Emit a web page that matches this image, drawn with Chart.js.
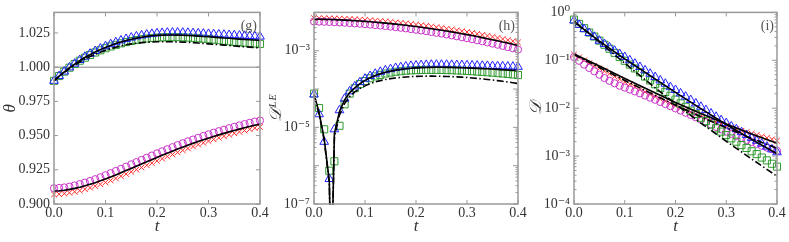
<!DOCTYPE html>
<html>
<head>
<meta charset="utf-8">
<script src="https://cdn.jsdelivr.net/npm/chart.js@4"></script>
<style>
  html, body { margin: 0; padding: 0; background: #fff; }
  #wrap { position: relative; width: 789px; height: 242px; }
  canvas { position: absolute; left: 0; top: 0; }
</style>
</head>
<body>
<div id="wrap">
  <canvas id="panelG" width="789" height="242"></canvas>
  <canvas id="panelH" width="789" height="242"></canvas>
  <canvas id="panelI" width="789" height="242"></canvas>
</div>
<script>
// sample times of the markers
const tPts = [0, 0.01, 0.02, 0.03, 0.04, 0.05, 0.06, 0.07, 0.08, 0.09,
  0.10, 0.11, 0.12, 0.13, 0.14, 0.15, 0.16, 0.17, 0.18, 0.19,
  0.20, 0.21, 0.22, 0.23, 0.24, 0.25, 0.26, 0.27, 0.28, 0.29,
  0.30, 0.31, 0.32, 0.33, 0.34, 0.35, 0.36, 0.37, 0.38, 0.39, 0.40];
const xTicks = [0, 0.1, 0.2, 0.3, 0.4];

// ---- panel (g): theta ----
const gRed = [0.9070, 0.9072, 0.9076, 0.9082, 0.9089, 0.9098, 0.9108, 0.9119, 0.9131, 0.9144,
  0.9158, 0.9172, 0.9187, 0.9203, 0.9219, 0.9235, 0.9251, 0.9267, 0.9283, 0.9299,
  0.9315, 0.9331, 0.9347, 0.9362, 0.9377, 0.9392, 0.9406, 0.9420, 0.9434, 0.9447,
  0.9460, 0.9472, 0.9484, 0.9495, 0.9506, 0.9517, 0.9527, 0.9537, 0.9546, 0.9555, 0.9563];
const gMagenta = [0.9115, 0.9117, 0.9121, 0.9127, 0.9135, 0.9145, 0.9156, 0.9168, 0.9181, 0.9195,
  0.9210, 0.9225, 0.9241, 0.9257, 0.9273, 0.9290, 0.9306, 0.9322, 0.9338, 0.9354,
  0.9370, 0.9385, 0.9400, 0.9415, 0.9430, 0.9444, 0.9458, 0.9471, 0.9484, 0.9497,
  0.9509, 0.9521, 0.9532, 0.9543, 0.9554, 0.9564, 0.9574, 0.9584, 0.9593, 0.9602, 0.9610];
const gBlue = [0.9900, 0.9935, 0.9968, 0.9998, 1.0026, 1.0052, 1.0076, 1.0098, 1.0118, 1.0136,
  1.0153, 1.0168, 1.0182, 1.0195, 1.0206, 1.0216, 1.0225, 1.0232, 1.0238, 1.0243,
  1.0247, 1.0250, 1.0252, 1.0253, 1.0253, 1.0252, 1.0251, 1.0249, 1.0247, 1.0245,
  1.0243, 1.0241, 1.0239, 1.0237, 1.0235, 1.0233, 1.0231, 1.0229, 1.0227, 1.0225, 1.0223];
const gGreen = [0.9900, 0.9935, 0.9967, 0.9996, 1.0023, 1.0047, 1.0069, 1.0089, 1.0107, 1.0123,
  1.0138, 1.0151, 1.0163, 1.0174, 1.0183, 1.0191, 1.0198, 1.0204, 1.0209, 1.0213,
  1.0216, 1.0218, 1.0219, 1.0219, 1.0219, 1.0218, 1.0216, 1.0214, 1.0211, 1.0208,
  1.0205, 1.0201, 1.0197, 1.0193, 1.0189, 1.0185, 1.0182, 1.0179, 1.0176, 1.0173, 1.0170];
const gSolidLow = [0.9095, 0.9097, 0.9101, 0.9107, 0.9114, 0.9123, 0.9133, 0.9144, 0.9156, 0.9169,
  0.9183, 0.9197, 0.9212, 0.9228, 0.9244, 0.9260, 0.9276, 0.9292, 0.9308, 0.9324,
  0.9340, 0.9356, 0.9371, 0.9386, 0.9401, 0.9415, 0.9429, 0.9443, 0.9456, 0.9469,
  0.9481, 0.9493, 0.9505, 0.9516, 0.9527, 0.9537, 0.9547, 0.9557, 0.9566, 0.9575, 0.9583];
const gSolidUp = [0.9900, 0.9934, 0.9966, 0.9995, 1.0022, 1.0047, 1.0070, 1.0091, 1.0110, 1.0128,
  1.0144, 1.0159, 1.0172, 1.0184, 1.0195, 1.0204, 1.0212, 1.0219, 1.0225, 1.0229,
  1.0232, 1.0234, 1.0235, 1.0235, 1.0234, 1.0233, 1.0231, 1.0229, 1.0227, 1.0224,
  1.0222, 1.0219, 1.0216, 1.0213, 1.0211, 1.0208, 1.0205, 1.0203, 1.0200, 1.0198, 1.0195];
const gDashUp = [0.9900, 0.9932, 0.9962, 0.9989, 1.0014, 1.0037, 1.0058, 1.0077, 1.0094, 1.0109,
  1.0123, 1.0135, 1.0146, 1.0155, 1.0163, 1.0170, 1.0175, 1.0179, 1.0182, 1.0184,
  1.0185, 1.0186, 1.0186, 1.0185, 1.0184, 1.0183, 1.0181, 1.0179, 1.0176, 1.0173,
  1.0170, 1.0167, 1.0164, 1.0161, 1.0158, 1.0155, 1.0152, 1.0149, 1.0146, 1.0143, 1.0140];
const tRef = [0, 0.4];
const gRef = [1.0, 1.0];
const gTicks = [0.900, 0.925, 0.950, 0.975, 1.000, 1.025];

// ---- panel (h): D^LE ----
const hRed = [7.08e-3, 7.06e-3, 7.02e-3, 6.98e-3, 6.92e-3, 6.85e-3, 6.77e-3, 6.68e-3, 6.58e-3, 6.47e-3,
  6.35e-3, 6.22e-3, 6.09e-3, 5.95e-3, 5.80e-3, 5.64e-3, 5.49e-3, 5.32e-3, 5.15e-3, 4.98e-3,
  4.81e-3, 4.63e-3, 4.46e-3, 4.28e-3, 4.10e-3, 3.93e-3, 3.75e-3, 3.58e-3, 3.40e-3, 3.23e-3,
  3.07e-3, 2.91e-3, 2.75e-3, 2.59e-3, 2.44e-3, 2.30e-3, 2.16e-3, 2.02e-3, 1.90e-3, 1.77e-3, 1.65e-3];
const hMagenta = [5.81e-3, 5.76e-3, 5.70e-3, 5.63e-3, 5.56e-3, 5.47e-3, 5.38e-3, 5.28e-3, 5.17e-3, 5.06e-3,
  4.94e-3, 4.81e-3, 4.68e-3, 4.55e-3, 4.41e-3, 4.26e-3, 4.13e-3, 3.98e-3, 3.83e-3, 3.68e-3,
  3.54e-3, 3.38e-3, 3.24e-3, 3.09e-3, 2.94e-3, 2.81e-3, 2.66e-3, 2.52e-3, 2.38e-3, 2.25e-3,
  2.13e-3, 2.00e-3, 1.88e-3, 1.76e-3, 1.65e-3, 1.54e-3, 1.44e-3, 1.34e-3, 1.25e-3, 1.16e-3, 1.07e-3];
const hSolidTop = [6.69e-3, 6.65e-3, 6.59e-3, 6.53e-3, 6.46e-3, 6.37e-3, 6.28e-3, 6.18e-3, 6.07e-3, 5.95e-3,
  5.82e-3, 5.68e-3, 5.54e-3, 5.40e-3, 5.24e-3, 5.09e-3, 4.93e-3, 4.77e-3, 4.60e-3, 4.43e-3,
  4.27e-3, 4.09e-3, 3.93e-3, 3.76e-3, 3.59e-3, 3.43e-3, 3.26e-3, 3.10e-3, 2.94e-3, 2.78e-3,
  2.63e-3, 2.49e-3, 2.34e-3, 2.20e-3, 2.06e-3, 1.94e-3, 1.82e-3, 1.69e-3, 1.59e-3, 1.47e-3, 1.37e-3];
const hBlue = [7.2e-5, 2.2e-5, 4.2e-6, 4.5e-7, 8.9e-6, 2.8e-5, 5.6e-5, 8.7e-5, 1.17e-4, 1.51e-4,
  1.86e-4, 2.19e-4, 2.51e-4, 2.82e-4, 3.09e-4, 3.31e-4, 3.55e-4, 3.72e-4, 3.89e-4, 4.03e-4,
  4.12e-4, 4.22e-4, 4.27e-4, 4.32e-4, 4.32e-4, 4.32e-4, 4.30e-4, 4.27e-4, 4.24e-4, 4.20e-4,
  4.17e-4, 4.13e-4, 4.09e-4, 4.06e-4, 4.02e-4, 3.98e-4, 3.94e-4, 3.91e-4, 3.87e-4, 3.84e-4, 3.80e-4];
const hGreen = [7.6e-5, 3.2e-5, 8.9e-6, 7.4e-7, 1.3e-6, 1.1e-5, 4.0e-5, 7.6e-5, 1.05e-4, 1.35e-4,
  1.62e-4, 1.91e-4, 2.14e-4, 2.34e-4, 2.54e-4, 2.69e-4, 2.82e-4, 2.92e-4, 3.01e-4, 3.07e-4,
  3.11e-4, 3.14e-4, 3.16e-4, 3.16e-4, 3.16e-4, 3.15e-4, 3.13e-4, 3.10e-4, 3.06e-4, 3.02e-4,
  2.97e-4, 2.92e-4, 2.86e-4, 2.80e-4, 2.74e-4, 2.67e-4, 2.61e-4, 2.54e-4, 2.47e-4, 2.40e-4, 2.32e-4];
// the lower curves dip through zero near t = 0.034
const tLineH = [0, 0.01, 0.02, 0.03, 0.034, 0.04, 0.05, 0.06, 0.07, 0.08, 0.09,
  0.10, 0.11, 0.12, 0.13, 0.14, 0.15, 0.16, 0.17, 0.18, 0.19,
  0.20, 0.21, 0.22, 0.23, 0.24, 0.25, 0.26, 0.27, 0.28, 0.29,
  0.30, 0.31, 0.32, 0.33, 0.34, 0.35, 0.36, 0.37, 0.38, 0.39, 0.40];
const hSolidLow = [7.4e-5, 2.4e-5, 5.0e-6, 4.0e-7, 1e-9, 7.0e-6, 2.6e-5, 5.2e-5, 8.1e-5, 1.08e-4, 1.38e-4,
  1.68e-4, 1.97e-4, 2.24e-4, 2.50e-4, 2.73e-4, 2.93e-4, 3.11e-4, 3.26e-4, 3.38e-4, 3.48e-4,
  3.56e-4, 3.62e-4, 3.66e-4, 3.68e-4, 3.69e-4, 3.69e-4, 3.68e-4, 3.66e-4, 3.63e-4, 3.60e-4,
  3.56e-4, 3.52e-4, 3.47e-4, 3.42e-4, 3.37e-4, 3.32e-4, 3.26e-4, 3.20e-4, 3.14e-4, 3.08e-4, 3.02e-4];
const hDashLow = [7.0e-5, 2.2e-5, 4.5e-6, 3.5e-7, 1e-9, 5.5e-6, 2.1e-5, 4.2e-5, 6.4e-5, 8.4e-5, 1.03e-4,
  1.21e-4, 1.38e-4, 1.53e-4, 1.66e-4, 1.77e-4, 1.87e-4, 1.95e-4, 2.02e-4, 2.07e-4, 2.11e-4,
  2.14e-4, 2.16e-4, 2.17e-4, 2.17e-4, 2.16e-4, 2.15e-4, 2.13e-4, 2.11e-4, 2.08e-4, 2.05e-4,
  2.00e-4, 1.95e-4, 1.90e-4, 1.84e-4, 1.78e-4, 1.72e-4, 1.66e-4, 1.59e-4, 1.53e-4, 1.46e-4, 1.39e-4];
const hTicks = [1e-7, 1e-5, 1e-3];

// ---- panel (i): D ----
const iRed = [0.132, 0.115, 0.100, 0.0871, 0.0767, 0.0676, 0.0596, 0.0525, 0.0457, 0.0403,
  0.0355, 0.0316, 0.0279, 0.0245, 0.0219, 0.0195, 0.0174, 0.0155, 0.0140, 0.0126,
  0.0112, 0.0101, 0.00912, 0.00832, 0.00750, 0.00676, 0.00617, 0.00562, 0.00513, 0.00468,
  0.00427, 0.00398, 0.00367, 0.00339, 0.00316, 0.00295, 0.00275, 0.00257, 0.00240, 0.00224, 0.00209];
const iMagenta = [0.117, 0.0977, 0.0813, 0.0692, 0.0589, 0.0501, 0.0427, 0.0372, 0.0331, 0.0295,
  0.0269, 0.0245, 0.0224, 0.0204, 0.0184, 0.0166, 0.0150, 0.0135, 0.0122, 0.0110,
  0.00989, 0.00891, 0.00804, 0.00724, 0.00646, 0.00575, 0.00513, 0.00457, 0.00407, 0.00363,
  0.00324, 0.00292, 0.00263, 0.00237, 0.00216, 0.00197, 0.00180, 0.00164, 0.00151, 0.00140, 0.00129];
const iBlue = [0.676, 0.550, 0.447, 0.372, 0.309, 0.257, 0.219, 0.186, 0.158, 0.135,
  0.117, 0.100, 0.0851, 0.0724, 0.0617, 0.0525, 0.0447, 0.0380, 0.0324, 0.0275,
  0.0240, 0.0204, 0.0174, 0.0148, 0.0126, 0.0107, 0.00912, 0.00776, 0.00661, 0.00562,
  0.00490, 0.00417, 0.00363, 0.00316, 0.00275, 0.00240, 0.00209, 0.00182, 0.00158, 0.00138, 0.00120];
const iGreen = [0.708, 0.575, 0.468, 0.380, 0.313, 0.257, 0.211, 0.174, 0.143, 0.117,
  0.0977, 0.0813, 0.0676, 0.0562, 0.0457, 0.0380, 0.0316, 0.0263, 0.0219, 0.0182,
  0.0151, 0.0126, 0.0107, 0.00891, 0.00759, 0.00631, 0.00537, 0.00457, 0.00380, 0.00324,
  0.00275, 0.00234, 0.00200, 0.00170, 0.00148, 0.00126, 0.00110, 0.000933, 0.000813, 0.000692, 0.000603];
const tLineI = [0, 0.05, 0.10, 0.15, 0.20, 0.25, 0.30, 0.35, 0.40];
const iSolidUp = [0.631, 0.251, 0.107, 0.0479, 0.0214, 0.00977, 0.00457, 0.00224, 0.00112];
const iDashUp = [0.661, 0.240, 0.0871, 0.0324, 0.0123, 0.00490, 0.00204, 0.000871, 0.000380];
const iSolidLow = [0.135, 0.0759, 0.0417, 0.0234, 0.0132, 0.00776, 0.00468, 0.00288, 0.00186];
const iDashLow = [0.132, 0.0708, 0.0380, 0.0209, 0.0115, 0.00661, 0.00389, 0.00234, 0.00145];
const iTicks = [1e-4, 1e-3, 1e-2, 1e-1, 1];

const SERIF = '"Liberation Serif", "DejaVu Serif", serif';
const TEXT = '#333';
const RED = '#ff2a2a', MAGENTA = '#c832c8', BLUE = '#1f1fff', GREEN = '#2e9a2e';
const DASHDOT = [7, 2.5, 1.5, 2.5];

// Turn x and y arrays into Chart.js points
function pts(xs, ys) {
    return xs.map((x, i) => ({ x: x, y: ys[i] }));
}

// Open markers at the sample times
function markers(ys, style, color, radius) {
    return {
        data: pts(tPts, ys),
        showLine: false,
        pointStyle: style,
        pointRadius: radius,
        pointBorderColor: color,
        pointBackgroundColor: 'rgba(0,0,0,0)',
        pointBorderWidth: 1,
        clip: 8
    };
}

// Black model curves
function curve(xs, ys, dash, color, width) {
    return {
        data: pts(xs, ys),
        showLine: true,
        pointRadius: 0,
        borderColor: color || '#000',
        borderWidth: width || 1.6,
        borderDash: dash || [],
        fill: false,
        clip: 1
    };
}

// 10^n labels with superscript digits
const SUP = { '-': '\u207B', '0': '\u2070', '1': '\u00B9', '2': '\u00B2', '3': '\u00B3', '4': '\u2074',
    '5': '\u2075', '6': '\u2076', '7': '\u2077', '8': '\u2078', '9': '\u2079' };
function powerLabel(v) {
    const e = Math.round(Math.log10(v));
    return '10' + String(e).split('').map(c => SUP[c]).join('');
}

// Frame, inward tick marks on all sides and the panel tag
const framePlugin = {
    id: 'frame',
    afterDatasetsDraw(chart, args, opts) {
        const { ctx, chartArea: a, scales: { x, y } } = chart;
        ctx.save();
        ctx.strokeStyle = '#999';
        ctx.lineWidth = 1;
        const seg = (x1, y1, x2, y2) => { ctx.beginPath(); ctx.moveTo(x1, y1); ctx.lineTo(x2, y2); ctx.stroke(); };
        xTicks.forEach(v => {
            const px = x.getPixelForValue(v);
            seg(px, a.bottom, px, a.bottom - 4);
            seg(px, a.top, px, a.top + 4);
        });
        if (opts.logY) {
            const e0 = Math.round(Math.log10(y.min)), e1 = Math.round(Math.log10(y.max));
            for (let e = e0; e <= e1; e++) {
                for (let k = 1; k <= 9; k++) {
                    const v = k * Math.pow(10, e);
                    if (v > y.max * 1.001) continue;
                    const py = y.getPixelForValue(v);
                    const len = k === 1 ? 5 : 2.5;
                    seg(a.left, py, a.left + len, py);
                    seg(a.right, py, a.right - len, py);
                }
            }
        } else {
            opts.yTicks.forEach(v => {
                const py = y.getPixelForValue(v);
                seg(a.left, py, a.left + 4, py);
                seg(a.right, py, a.right - 4, py);
            });
        }
        ctx.lineWidth = 1.5;
        ctx.strokeRect(a.left, a.top, a.right - a.left, a.bottom - a.top);
        ctx.fillStyle = '#555';
        ctx.font = '14px ' + SERIF;
        ctx.textAlign = 'right';
        ctx.textBaseline = 'middle';
        ctx.fillText(opts.tag, a.right - 3, a.top + 14);
        ctx.restore();
    }
};

// Build one panel on its own canvas
function makePanel(canvasId, cfg) {
    new Chart(document.getElementById(canvasId), {
        type: 'scatter',
        data: { datasets: cfg.datasets },
        options: {
            responsive: false,
            animation: false,
            devicePixelRatio: 1,
            events: [],
            layout: { padding: { left: cfg.left - cfg.yWidth, right: 789 - cfg.right, top: 10, bottom: 0 } },
            plugins: {
                legend: { display: false },
                tooltip: { enabled: false },
                frame: { tag: cfg.tag, logY: cfg.logY, yTicks: cfg.yTicks }
            },
            scales: {
                x: {
                    type: 'linear',
                    min: 0,
                    max: 0.4,
                    afterBuildTicks: s => { s.ticks = xTicks.map(v => ({ value: v })); },
                    afterFit: s => { s.height = 38; },
                    grid: { display: false, drawTicks: false },
                    border: { display: false },
                    ticks: { callback: v => v.toFixed(1), font: { family: SERIF, size: 14 }, color: TEXT, padding: 1, maxRotation: 0 },
                    title: { display: true, text: 't', color: TEXT, font: { family: SERIF, size: 17, style: 'italic' }, padding: { top: 0, bottom: 5 } }
                },
                y: {
                    type: cfg.logY ? 'logarithmic' : 'linear',
                    min: cfg.yMin,
                    max: cfg.yMax,
                    afterBuildTicks: s => { s.ticks = cfg.yTicks.map(v => ({ value: v })); },
                    afterFit: s => { s.width = cfg.yWidth; },
                    grid: { display: false, drawTicks: false },
                    border: { display: false },
                    ticks: { callback: cfg.logY ? powerLabel : v => v.toFixed(3), font: { family: SERIF, size: 14 }, color: TEXT, padding: 4, autoSkip: false },
                    title: { display: true, text: cfg.yTitle, color: TEXT, font: { family: SERIF, size: 17, style: 'italic' }, padding: { top: 0, bottom: 0 } }
                }
            }
        },
        plugins: [framePlugin]
    });
}

// Panel (g)
makePanel('panelG', {
    tag: '(g)', left: 54, right: 260, yWidth: 54, logY: false,
    yMin: 0.9, yMax: 1.04, yTicks: gTicks, yTitle: '\u03B8',
    datasets: [
        curve(tPts, gSolidUp),
        curve(tPts, gDashUp, DASHDOT),
        curve(tPts, gSolidLow),
        markers(gBlue, 'triangle', BLUE, 5),
        markers(gGreen, 'rect', GREEN, 5),
        markers(gMagenta, 'circle', MAGENTA, 3.6),
        markers(gRed, 'crossRot', RED, 4),
        curve(tRef, gRef, [], '#aaaaaa', 1.5)
    ]
});

// Panel (h)
makePanel('panelH', {
    tag: '(h)', left: 314, right: 518, yWidth: 48, logY: true,
    yMin: 1e-7, yMax: 1e-2, yTicks: hTicks, yTitle: '\uD835\uDC9F\u1D38\u1D31',
    datasets: [
        curve(tPts, hSolidTop),
        curve(tLineH, hSolidLow),
        curve(tLineH, hDashLow, DASHDOT),
        markers(hBlue, 'triangle', BLUE, 5),
        markers(hGreen, 'rect', GREEN, 5),
        markers(hMagenta, 'circle', MAGENTA, 3.6),
        markers(hRed, 'crossRot', RED, 4)
    ]
});

// Panel (i)
makePanel('panelI', {
    tag: '(i)', left: 574, right: 777, yWidth: 48, logY: true,
    yMin: 1e-4, yMax: 1, yTicks: iTicks, yTitle: '\uD835\uDC9F',
    datasets: [
        curve(tLineI, iSolidUp),
        curve(tLineI, iDashUp, DASHDOT),
        curve(tLineI, iSolidLow),
        curve(tLineI, iDashLow, DASHDOT),
        markers(iBlue, 'triangle', BLUE, 5),
        markers(iGreen, 'rect', GREEN, 5),
        markers(iMagenta, 'circle', MAGENTA, 3.6),
        markers(iRed, 'crossRot', RED, 4)
    ]
});
</script>
</body>
</html>
